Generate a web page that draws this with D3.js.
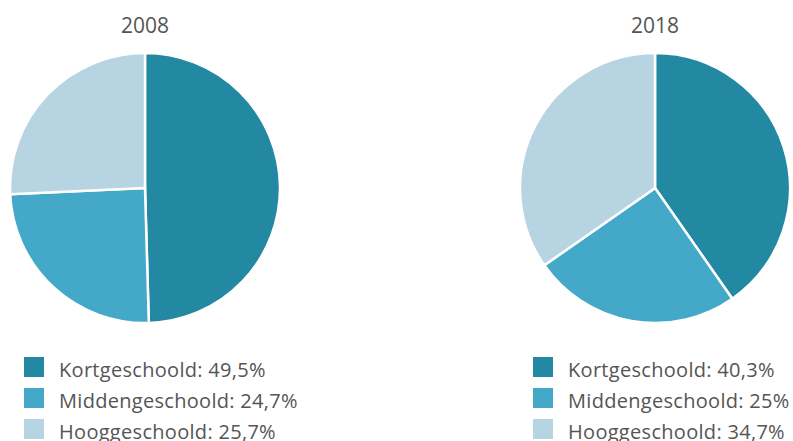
<!DOCTYPE html>
<html>
<head>
<meta charset="utf-8">
<script src="https://cdn.jsdelivr.net/npm/d3@7"></script>
<style>
  html, body { margin: 0; padding: 0; background: #fff; }
  svg { display: block; }
  text { font-family: "Open Sans", "Noto Sans", sans-serif; fill: #555; }
</style>
</head>
<body>
<svg id="chart" width="793" height="441"></svg>
<script>
const categories = ["Kortgeschoold", "Middengeschoold", "Hooggeschoold"];
const years = ["2008", "2018"];
const values2008 = [49.5, 24.7, 25.7];
const values2018 = [40.3, 25, 34.7];
const labels2008 = ["49,5%", "24,7%", "25,7%"];
const labels2018 = ["40,3%", "25%", "34,7%"];
const colors = ["#2388a2", "#44a9c8", "#b6d4e1"];

const svg = d3.select("#chart");
const color = d3.scaleOrdinal().domain(categories).range(colors);
const radius = 135;
const pie = d3.pie().sort(null).value(d => d.v);
const arc = d3.arc().innerRadius(0).outerRadius(radius);

const panels = [
  { year: years[0], values: values2008, labels: labels2008, cx: 145, lx: 24 },
  { year: years[1], values: values2018, labels: labels2018, cx: 655, lx: 533 }
];

panels.forEach(p => {
  const data = categories.map((c, i) => ({ c, v: p.values[i], l: p.labels[i] }));
  svg.append("text")
    .attr("x", p.cx).attr("y", 33)
    .attr("text-anchor", "middle")
    .style("font-size", "21px")
    .text(p.year);

  const g = svg.append("g").attr("transform", `translate(${p.cx},188)`);
  g.selectAll("path").data(pie(data)).join("path")
    .attr("d", arc)
    .attr("fill", d => color(d.data.c))
    .attr("stroke", "#fff")
    .attr("stroke-width", 2.5);

  const lg = svg.append("g").attr("transform", `translate(${p.lx},357)`);
  const rows = lg.selectAll("g").data(data).join("g")
    .attr("transform", (d, i) => `translate(0,${i * 31})`);
  rows.append("rect").attr("width", 20).attr("height", 20)
    .attr("fill", d => color(d.c));
  rows.append("text").attr("x", 35).attr("y", 20)
    .style("font-size", "20px")
    .style("letter-spacing", "0.3px")
    .text(d => `${d.c}: ${d.l}`);
});
</script>
</body>
</html>
